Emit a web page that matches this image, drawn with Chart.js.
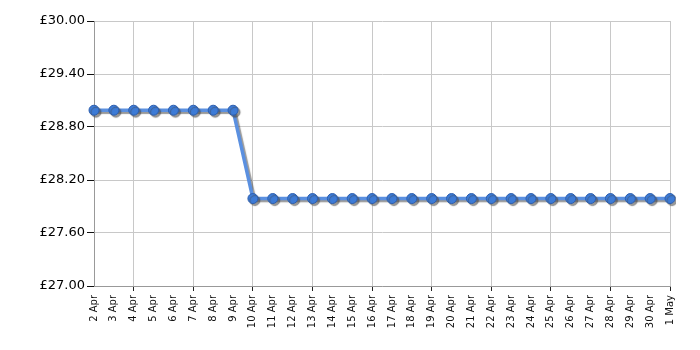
<!DOCTYPE html>
<html>
<head>
<meta charset="utf-8">
<script src="https://cdn.jsdelivr.net/npm/chart.js@4/dist/chart.umd.min.js"></script>
<style>
  html, body { margin: 0; padding: 0; background: #fff; }
  #wrap { width: 700px; height: 350px; }
</style>
</head>
<body>
<div id="wrap"><canvas id="chrt"></canvas></div>
<script>
const days = ['2 Apr', '3 Apr', '4 Apr', '5 Apr', '6 Apr', '7 Apr', '8 Apr', '9 Apr',
  '10 Apr', '11 Apr', '12 Apr', '13 Apr', '14 Apr', '15 Apr', '16 Apr', '17 Apr',
  '18 Apr', '19 Apr', '20 Apr', '21 Apr', '22 Apr', '23 Apr', '24 Apr', '25 Apr',
  '26 Apr', '27 Apr', '28 Apr', '29 Apr', '30 Apr', '1 May'];
const prices = [28.99, 28.99, 28.99, 28.99, 28.99, 28.99, 28.99, 28.99,
  27.99, 27.99, 27.99, 27.99, 27.99, 27.99, 27.99, 27.99,
  27.99, 27.99, 27.99, 27.99, 27.99, 27.99, 27.99, 27.99,
  27.99, 27.99, 27.99, 27.99, 27.99, 27.99];
const yMin = 27, yMax = 30, yStep = 0.6;

// gray drop shadow under line + points
const shadow = {
  id: 'shadow',
  beforeDatasetsDraw(chart) {
    let ctx = chart.ctx;
    ctx.save();
    ctx.shadowColor = 'rgba(70,70,70,0.55)';
    ctx.shadowOffsetX = 2;
    ctx.shadowOffsetY = 2;
    ctx.shadowBlur = 1;
  },
  afterDatasetsDraw(chart) {
    chart.ctx.restore();
  }
};

new Chart(document.getElementById('chrt'), {
  type: 'line',
  data: {
    labels: days,
    datasets: [{
      data: prices,
      borderColor: '#5b90e0',
      borderWidth: 3.5,
      pointRadius: 5,
      pointBackgroundColor: '#3d7bd6',
      pointBorderColor: '#2c5eae',
      pointBorderWidth: 1,
      tension: 0,
      fill: false
    }]
  },
  plugins: [shadow],
  options: {
    responsive: true,
    maintainAspectRatio: false,
    animation: false,
    layout: { padding: { top: 21, right: 30, left: 0, bottom: 0 } },
    scales: {
      x: {
        offset: false,
        border: { color: '#999', width: 1 },
        grid: {
          color: ctx => (ctx.index % 3 == 2 ? '#c8c8c8' : 'rgba(0,0,0,0)'),
          tickColor: ctx => (ctx.index % 3 == 2 ? '#222' : 'rgba(0,0,0,0)'),
          tickLength: 5
        },
        ticks: {
          autoSkip: false,
          maxRotation: 90,
          minRotation: 90,
          padding: 4,
          color: '#111',
          font: { family: 'DejaVu Sans', size: 10 }
        },
        afterFit: s => { s.height = 64; }
      },
      y: {
        min: yMin,
        max: yMax,
        border: { color: '#999', width: 1 },
        grid: {
          color: '#c8c8c8',
          tickColor: '#111',
          tickLength: 7
        },
        ticks: {
          stepSize: yStep,
          padding: 2,
          color: '#000',
          font: { family: 'DejaVu Sans', size: 13 },
          callback: v => '£' + Number(v).toFixed(2)
        },
        afterFit: s => { s.width = 94; }
      }
    },
    plugins: {
      legend: { display: false },
      tooltip: { enabled: false }
    }
  }
});
</script>
</body>
</html>
